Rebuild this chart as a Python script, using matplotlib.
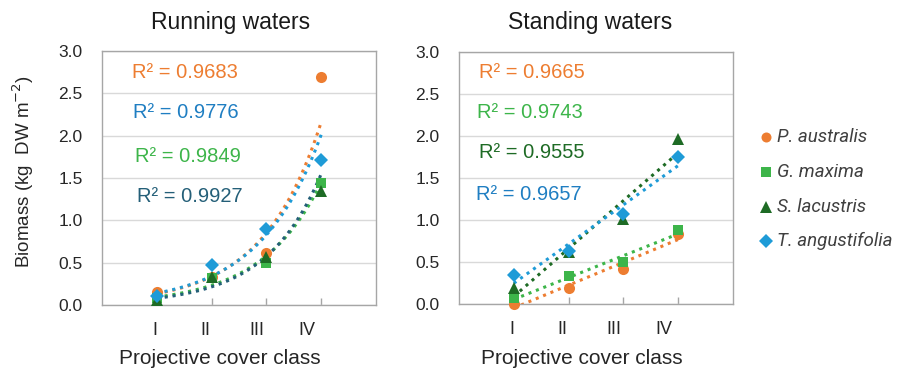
import numpy as np
import matplotlib
matplotlib.use("Agg")
import matplotlib.pyplot as plt
from matplotlib.lines import Line2D

classes = ["I", "II", "III", "IV"]
x = np.array([1, 2, 3, 4])

species = ["P. australis", "G. maxima", "S. lacustris", "T. angustifolia"]

running = {
    "P. australis": [0.15, 0.33, 0.62, 2.69],
    "G. maxima": [0.08, 0.32, 0.50, 1.44],
    "S. lacustris": [0.06, 0.33, 0.57, 1.35],
    "T. angustifolia": [0.11, 0.47, 0.90, 1.71],
}
standing = {
    "P. australis": [0.00, 0.19, 0.42, 0.83],
    "G. maxima": [0.07, 0.33, 0.50, 0.88],
    "S. lacustris": [0.19, 0.62, 1.01, 1.96],
    "T. angustifolia": [0.34, 0.63, 1.07, 1.75],
}
r2_running = ["0.9683", "0.9776", "0.9849", "0.9927"]
r2_standing = ["0.9665", "0.9743", "0.9555", "0.9657"]

colors = {
    "P. australis": "#ED7D31",
    "G. maxima": "#3DB54A",
    "S. lacustris": "#1E6B25",
    "T. angustifolia": "#1E9BD7",
}
markers = {"P. australis": "o", "G. maxima": "s", "S. lacustris": "^", "T. angustifolia": "D"}
msize = {"P. australis": 8, "G. maxima": 7.5, "S. lacustris": 9, "T. angustifolia": 7.5}
trend_running = {"P. australis": "#ED7D31", "G. maxima": "#3DB54A",
                 "S. lacustris": "#245F78", "T. angustifolia": "#1E9BD7"}
trend_standing = {"P. australis": "#ED7D31", "G. maxima": "#3DB54A",
                  "S. lacustris": "#1E6B25", "T. angustifolia": "#1E9BD7"}

W, H = 897, 369
fig = plt.figure(figsize=(W / 100, H / 100), dpi=100)

def px(xp, yp):
    return xp / W, 1 - yp / H

base_font = ["Liberation Sans", "DejaVu Sans"]
tick_color = "#262626"

def setup(ax):
    ax.set_xlim(0, 5)
    ax.set_ylim(0, 3.0)
    ax.set_yticks(np.arange(0, 3.01, 0.5))
    ax.set_yticklabels([f"{v:.1f}" for v in np.arange(0, 3.01, 0.5)],
                       fontsize=12.5, family=base_font, color=tick_color)
    ax.yaxis.grid(True, color="#D9D9D9", linewidth=1)
    ax.set_axisbelow(True)
    ax.tick_params(axis="y", length=0, pad=14)
    ax.set_xticks(x)
    ax.set_xticklabels([])
    ax.tick_params(axis="x", direction="in", length=5, color="#A6A6A6", width=1)
    for s in ax.spines.values():
        s.set_color("#A6A6A6")
        s.set_linewidth(1)
    # category labels (slightly offset like the original)
    for pos, lab in zip([0.96, 1.88, 2.82, 3.73], classes):
        ax.text(pos, -0.1, lab, transform=ax.get_xaxis_transform(),
                ha="center", va="center", fontsize=13, family=base_font,
                color=tick_color)

# Left panel
axL = fig.add_axes([102 / W, 1 - 305 / H, 274 / W, 254 / H])
setup(axL)
xs = np.linspace(1, 4, 100)
for sp in species:
    y = np.array(running[sp])
    b, a = np.polyfit(x, np.log(y), 1)
    axL.plot(xs, np.exp(a) * np.exp(b * xs), linestyle=(0, (1, 1.6)), linewidth=2.2,
             color=trend_running[sp], zorder=2)
for sp in species:
    axL.plot(x, running[sp], linestyle="none", marker=markers[sp], markersize=msize[sp],
             color=colors[sp], markeredgewidth=0, zorder=3)

# Right panel
axR = fig.add_axes([459 / W, 1 - 304 / H, 274 / W, 252 / H])
setup(axR)
for sp in species:
    y = np.array(standing[sp])
    m, c = np.polyfit(x, y, 1)
    yl = m * xs + c
    axR.plot(xs, yl, linestyle=(0, (1, 1.6)), linewidth=2.2,
             color=trend_standing[sp], zorder=2, clip_on=True)
for sp in species:
    axR.plot(x, standing[sp], linestyle="none", marker=markers[sp], markersize=msize[sp],
             color=colors[sp], markeredgewidth=0, zorder=3, clip_on=False)

# R² labels
r2L_pos = [(132, 73), (133, 113), (135, 157), (137, 197)]
r2L_col = ["#ED7D31", "#1F7EC2", "#3DB54A", "#245F78"]
for (xp, yp), val, col in zip(r2L_pos, r2_running, r2L_col):
    fig.text(*px(xp, yp), f"R² = {val}", ha="left", va="center", fontsize=14.5,
             family=base_font, color=col)
r2R_pos = [(479, 73), (477, 113), (479, 153), (476, 195)]
r2R_col = ["#ED7D31", "#3DB54A", "#1E6B25", "#1F7EC2"]
for (xp, yp), val, col in zip(r2R_pos, r2_standing, r2R_col):
    fig.text(*px(xp, yp), f"R² = {val}", ha="left", va="center", fontsize=14.5,
             family=base_font, color=col)

# Titles
title_font = ["Liberation Sans Narrow", "Liberation Sans", "DejaVu Sans"]
fig.text(*px(231, 22), "Running waters", ha="center", va="center", fontsize=16.5,
         family=title_font, color="#1a1a1a")
fig.text(*px(590, 22), "Standing waters", ha="center", va="center", fontsize=16.5,
         family=title_font, color="#1a1a1a")

# Axis labels
fig.text(*px(220, 359), "Projective cover class", ha="center", va="center",
         fontsize=15, family=base_font, color=tick_color)
fig.text(*px(582, 359), "Projective cover class", ha="center", va="center",
         fontsize=15, family=base_font, color=tick_color)
fig.text(*px(23, 172), "Biomass (kg  DW m$^{-2}$)", ha="center", va="center",
         rotation=90, fontsize=13.5, family=base_font, color=tick_color)

# Legend
leg_rows = [137, 172, 207, 241]
for sp, yp in zip(species, leg_rows):
    xf, yf = px(766, yp)
    fig.add_artist(Line2D([xf], [yf], marker=markers[sp], color=colors[sp],
                          markersize=msize[sp] * 0.9, markeredgewidth=0,
                          transform=fig.transFigure, linestyle="none"))
    fig.text(*px(777, yp), sp, ha="left", va="center", fontsize=13.5, style="italic",
             family=["Roboto", "DejaVu Sans"], color="#404040")

fig.savefig("out.png", dpi=100)
